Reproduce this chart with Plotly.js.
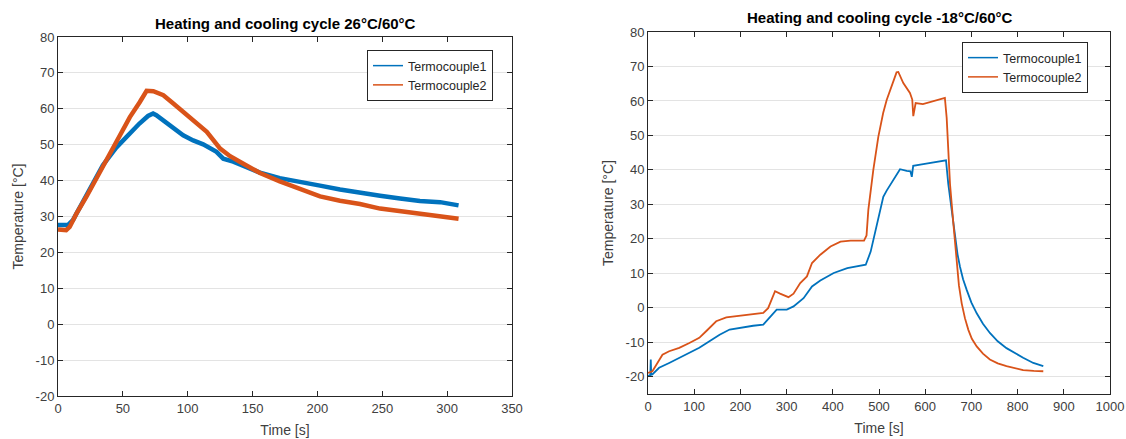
<!DOCTYPE html>
<html>
<head>
<meta charset="utf-8">
<script src="https://cdn.plot.ly/plotly-3.0.1.min.js"></script>
<style>
  html, body { margin: 0; padding: 0; background: #fff; }
  #chart { width: 1126px; height: 439px; }
</style>
</head>
<body>
<div id="chart"></div>
<script>
// Cycle 26°C/60°C – time [s] and temperature [°C] per thermocouple
const leftTime1 = [0, 4, 7.6, 11.5, 19.2, 26.9, 34.6, 44.9, 55.2, 62.8, 69.4, 73.3, 75.8, 83.6, 96.5, 104.2, 111.9, 122.2, 127.4, 135.1, 148, 155.7, 171, 186.5, 202, 217.4, 232.8, 248.3, 263.7, 279, 294.6, 308.8];
const leftTc1   = [27.6, 27.5, 27.6, 29.0, 34.1, 39.6, 44.3, 49.2, 53.3, 55.9, 58.0, 58.7, 58.2, 56.1, 52.6, 51.2, 50.1, 48.0, 46.1, 45.3, 43.4, 42.2, 40.7, 39.8, 38.6, 37.5, 36.8, 35.8, 35.0, 34.3, 34.0, 33.1];
const leftTime2 = [0, 6.3, 9, 14.2, 21.9, 29.6, 37.4, 45.1, 55.4, 63.1, 68.3, 73.5, 81.2, 88.9, 96.7, 104.4, 114.7, 125, 132.7, 140.5, 148.2, 155.7, 171, 186.5, 202, 217.4, 232.8, 248.3, 263.7, 279, 294.6, 308.8];
const leftTc2   = [26.4, 26.2, 27.1, 30.8, 35.5, 40.6, 46.1, 50.8, 57.7, 61.9, 65.0, 64.9, 63.8, 61.5, 59.1, 56.8, 53.6, 48.9, 46.8, 45.2, 43.8, 42.1, 39.8, 37.8, 35.6, 34.4, 33.5, 32.2, 31.5, 30.6, 30.1, 29.4];

// Cycle -18°C/60°C
const rightTime1 = [0, 3, 5, 6, 7, 9.5, 24, 45.8, 67.6, 89.5, 111, 133, 155, 176.7, 198.5, 227.6, 249.5, 260, 278.5, 300.4, 315, 336.7, 355, 373, 402, 431.3, 460.4, 471.3, 482, 495, 509.3, 516.6, 531, 545.5, 560, 568, 571, 574, 595.7, 617.5, 639, 645, 650, 657.3, 664.5, 670, 675.3, 682, 689.8, 700, 711.5, 725, 740, 757, 776, 795, 812, 834, 855.6];
const rightTc1   = [-19.8, -19.6, -19.5, -15, -19.4, -19.3, -17.4, -16, -14.5, -12.9, -11.6, -9.7, -7.8, -6.3, -5.8, -5.2, -4.9, -3.4, -0.5, -0.5, 0.4, 2.8, 6.2, 7.9, 10.1, 11.5, 12.2, 12.5, 16.3, 23.5, 32.2, 34.0, 37.3, 40.2, 39.7, 39.6, 38.0, 41.2, 41.7, 42.1, 42.6, 42.8, 35.9, 28.2, 20.5, 15.5, 11.9, 8.3, 5.2, 1.5, -1.6, -4.6, -7.3, -9.7, -11.7, -13.2, -14.5, -16.0, -16.9];
const rightTime2 = [0, 9.5, 20.4, 31.3, 45.8, 67.6, 89.5, 111, 125.8, 147.6, 169.5, 191, 220, 249.5, 260, 275, 285.8, 304, 315, 329.5, 344, 355, 373, 395, 416.7, 438.5, 467.6, 473, 476.9, 487.7, 498.5, 509, 516.6, 531, 538, 541.8, 552.6, 567, 572, 574.2, 579.3, 595, 617.5, 639, 642.6, 646.5, 650, 653.7, 661, 668, 673, 679, 686, 693.4, 701, 711.5, 725, 740, 757, 776, 795, 812, 835, 855.6];
const rightTc2   = [-18.9, -18.4, -16, -13.6, -12.6, -11.6, -10.2, -8.7, -6.8, -3.9, -2.8, -2.5, -2.0, -1.5, -0.1, 4.8, 4.1, 3.1, 4.1, 7.2, 9.1, 13.0, 15.4, 17.8, 19.2, 19.5, 19.5, 21.0, 28.4, 40.0, 49.6, 56.5, 60.3, 66.1, 68.3, 68.4, 65.2, 62.3, 60.4, 55.6, 59.4, 59.1, 59.9, 60.6, 60.9, 55.1, 47.4, 35.9, 24.4, 12.8, 6.5, 1.3, -3.0, -6.4, -9.0, -11.2, -13.3, -15.0, -16.1, -16.9, -17.6, -18.1, -18.3, -18.4];

const seriesNames = ['Termocouple1', 'Termocouple2'];
const seriesColors = ['#0072BD', '#D95319'];
const leftXTicks = [0, 50, 100, 150, 200, 250, 300, 350];
const leftYTicks = [-20, -10, 0, 10, 20, 30, 40, 50, 60, 70, 80];
const rightXTicks = [0, 100, 200, 300, 400, 500, 600, 700, 800, 900, 1000];
const rightYTicks = [-20, -10, 0, 10, 20, 30, 40, 50, 60, 70, 80];
const titles = ['Heating and cooling cycle 26°C/60°C', 'Heating and cooling cycle -18°C/60°C'];

const FONT = 'Liberation Sans, Arial, sans-serif';
const AXIS_COLOR = '#262626';
const TICK_TEXT = '#404040';

// data traces (thick noisy band on the left, thin on the right)
function dataTrace(x, y, i, axSuffix, width) {
  return {
    x: x, y: y, xaxis: 'x' + axSuffix, yaxis: 'y' + axSuffix,
    name: seriesNames[i], mode: 'lines', showlegend: false,
    line: { color: seriesColors[i], width: width }
  };
}
// legend entries with a thin sample line
function legendEntry(i, axSuffix, legendId) {
  return {
    x: [null], y: [null], xaxis: 'x' + axSuffix, yaxis: 'y' + axSuffix,
    name: seriesNames[i], mode: 'lines', legend: legendId,
    line: { color: seriesColors[i], width: 1.5 }
  };
}

const traces = [
  dataTrace(leftTime1, leftTc1, 0, '', 4.5),
  dataTrace(leftTime2, leftTc2, 1, '', 4.5),
  dataTrace(rightTime1, rightTc1, 0, '2', 1.8),
  dataTrace(rightTime2, rightTc2, 1, '2', 1.8),
  legendEntry(0, '', 'legend'),
  legendEntry(1, '', 'legend'),
  legendEntry(0, '2', 'legend2'),
  legendEntry(1, '2', 'legend2')
];

function xAxis(domain, range, ticks, anchor) {
  return {
    domain: domain, range: range, tickvals: ticks, ticktext: ticks.map(String), anchor: anchor,
    showgrid: false, zeroline: false,
    showline: true, mirror: 'ticks', linecolor: AXIS_COLOR, linewidth: 1,
    ticks: 'inside', ticklen: 5, tickcolor: AXIS_COLOR,
    tickfont: { family: FONT, size: 13, color: TICK_TEXT },
    title: { text: 'Time [s]', font: { family: FONT, size: 14, color: TICK_TEXT }, standoff: 10 },
    automargin: false, fixedrange: true
  };
}
function yAxis(domain, range, ticks, anchor) {
  return {
    domain: domain, range: range, tickvals: ticks, ticktext: ticks.map(String), anchor: anchor,
    showgrid: true, gridcolor: '#e3e3e3', gridwidth: 1, zeroline: false,
    showline: true, mirror: 'ticks', linecolor: AXIS_COLOR, linewidth: 1,
    ticks: 'inside', ticklen: 5, tickcolor: AXIS_COLOR,
    tickfont: { family: FONT, size: 13, color: TICK_TEXT },
    title: { text: 'Temperature [°C]', font: { family: FONT, size: 14, color: TICK_TEXT }, standoff: 8 },
    automargin: false, fixedrange: true
  };
}
function legendBox(x, y) {
  return {
    x: x, y: y, xanchor: 'left', yanchor: 'top',
    bgcolor: '#ffffff', bordercolor: AXIS_COLOR, borderwidth: 1,
    font: { family: FONT, size: 12.5, color: AXIS_COLOR },
    tracegroupgap: 0, itemclick: false, itemdoubleclick: false
  };
}

const W = 1126, H = 439;
const layout = {
  width: W, height: H,
  margin: { l: 0, r: 0, t: 0, b: 0 },
  paper_bgcolor: '#ffffff', plot_bgcolor: '#ffffff',
  showlegend: true,
  xaxis: xAxis([58 / W, 512 / W], [0, 350], leftXTicks, 'y'),
  yaxis: yAxis([(H - 396) / H, (H - 37) / H], [-20, 80], leftYTicks, 'x'),
  xaxis2: xAxis([648 / W, 1110 / W], [0, 1000], rightXTicks, 'y2'),
  yaxis2: yAxis([(H - 394) / H, (H - 32) / H], [-25, 80], rightYTicks, 'x2'),
  legend: legendBox(367 / W, (H - 50) / H),
  legend2: legendBox(962 / W, (H - 42) / H),
  annotations: [
    { text: '<b>' + titles[0] + '</b>', xref: 'paper', yref: 'paper',
      x: 285 / W, y: (H - 24) / H, xanchor: 'center', yanchor: 'middle', showarrow: false,
      font: { family: FONT, size: 15, color: '#000000' } },
    { text: '<b>' + titles[1] + '</b>', xref: 'paper', yref: 'paper',
      x: 880 / W, y: (H - 18) / H, xanchor: 'center', yanchor: 'middle', showarrow: false,
      font: { family: FONT, size: 15, color: '#000000' } }
  ]
};

Plotly.newPlot('chart', traces, layout, { displayModeBar: false, staticPlot: true });
</script>
</body>
</html>
